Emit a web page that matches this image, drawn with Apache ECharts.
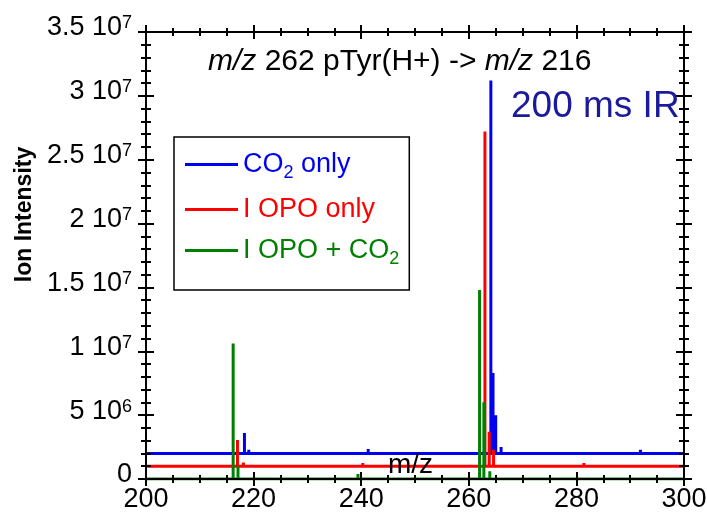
<!DOCTYPE html>
<html>
<head>
<meta charset="utf-8">
<script src="https://cdn.jsdelivr.net/npm/echarts@6/dist/echarts.min.js"></script>
<style>html,body{margin:0;padding:0;background:#fff;}#c{width:707px;height:512px;}</style>
</head>
<body>
<div id="c"></div>
<script>
// ---- data ----
const seriesNames = ['CO2 only', 'I OPO only', 'I OPO + CO2'];
const blueOffset = 2.0e6;
const blueMz  = [218.3, 219.1, 241.3, 264.1, 264.5, 265.0, 266.0, 291.9];
const blueTop = [3.6e6, 2.3e6, 2.35e6, 31.2e6, 8.3e6, 5.0e6, 2.5e6, 2.3e6];
const redOffset = 1.0e6;
const redMz  = [217.0, 218.1, 240.3, 263.0, 263.8, 264.6, 281.4];
const redTop = [3.05e6, 1.3e6, 1.25e6, 27.2e6, 3.7e6, 2.3e6, 1.25e6];
const greenOffset = 0;
const greenMz  = [216.2, 217.1, 239.4, 262.0, 262.8, 263.9];
const greenTop = [10.6e6, 1.0e6, 0.4e6, 14.8e6, 6.0e6, 0.6e6];
const xTickLabels = ['200', '220', '240', '260', '280', '300'];
const yTickMant = ['0', '5', '1', '1.5', '2', '2.5', '3', '3.5'];
const yTickExp  = ['', '6', '7', '7', '7', '7', '7', '7'];

const FONT = 'Liberation Sans';
const BLUE = '#0000f0', RED = '#ff0000', GREEN = '#008000';

function spectrum(mz, top, base) {
  const pts = [[200, base]];
  for (let i = 0; i < mz.length; i++) {
    pts.push([mz[i], base], [mz[i], top[i]], [mz[i], base]);
  }
  pts.push([300, base]);
  return pts;
}

function xAx(pos, inside, labels, extra) {
  return Object.assign({
    type: 'value', min: 200, max: 300, interval: 20, position: pos, z: 5,
    axisLine: { show: true, onZero: false, lineStyle: { color: '#000', width: 2 } },
    axisTick: { show: true, inside: inside, length: 7, lineStyle: { color: '#000', width: 2 } },
    minorTick: { show: true, splitNumber: 4, length: 4, lineStyle: { color: '#000', width: 2 } },
    splitLine: { show: false },
    axisLabel: labels ? {
      show: true, margin: 7, color: '#000', fontSize: 27, fontFamily: FONT,
      formatter: function (v) { return xTickLabels[Math.round((v - 200) / 20)]; }
    } : { show: false }
  }, extra || {});
}
function yAx(pos, inside, labels, extra) {
  return Object.assign({
    type: 'value', min: 0, max: 3.5e7, interval: 5e6, position: pos, z: 5,
    axisLine: { show: true, onZero: false, lineStyle: { color: '#000', width: 2 } },
    axisTick: { show: true, inside: inside, length: 8, lineStyle: { color: '#000', width: 2 } },
    minorTick: { show: true, splitNumber: 5, length: 5, lineStyle: { color: '#000', width: 2 } },
    splitLine: { show: false },
    axisLabel: labels ? {
      show: true, margin: 14, color: '#000', fontFamily: FONT,
      formatter: function (v) {
        const i = Math.round(v / 5e6);
        if (!yTickExp[i]) return '{m|' + yTickMant[i] + '}';
        return '{m|' + yTickMant[i] + ' 10}{s|' + yTickExp[i] + '}';
      },
      rich: {
        m: { fontSize: 27, fontFamily: FONT, color: '#000', padding: [0, 0, 8, 0] },
        s: { fontSize: 18, fontFamily: FONT, color: '#000', padding: [0, 0, 17, 0] }
      }
    } : { show: false }
  }, extra || {});
}

const chart = echarts.init(document.getElementById('c'), null, { renderer: 'canvas' });
chart.setOption({
  animation: false,
  backgroundColor: '#fff',
  grid: { left: 146, right: 23, top: 32, bottom: 33, outerBoundsMode: 'none', containLabel: false },
  title: [
    {
      text: '{i|m/z} 262 pTyr(H+) -> {i|m/z} 216',
      left: 203, top: 42,
      textStyle: { fontSize: 30, fontWeight: 'normal', fontFamily: FONT, color: '#000',
        rich: { i: { fontSize: 30, fontStyle: 'italic', fontFamily: FONT, color: '#000' } } }
    },
    {
      text: '200 ms IR', left: 506, top: 83,
      textStyle: { fontSize: 37, fontWeight: 'normal', fontFamily: FONT, color: '#1a1a9a' }
    },
    {
      text: 'm/z', left: 383, top: 446,
      textStyle: { fontSize: 28, fontWeight: 'normal', fontFamily: FONT, color: '#000' }
    }
  ],
  legend: {
    orient: 'vertical', left: 174, top: 137,
    padding: [14, 10, 22, 11], itemGap: 14,
    itemWidth: 53, itemHeight: 3, icon: 'rect',
    borderColor: '#000', borderWidth: 1.5, backgroundColor: '#fff',
    data: seriesNames,
    formatter: function (name) {
      if (name === seriesNames[0]) return '{b|CO}{bs|2}{b| only}';
      if (name === seriesNames[1]) return '{r|I OPO only}';
      return '{g|I OPO + CO}{gs|2}';
    },
    textStyle: {
      fontSize: 27, fontFamily: FONT,
      rich: {
        b: { fontSize: 27, fontFamily: FONT, color: BLUE },
        bs: { fontSize: 18, fontFamily: FONT, color: BLUE, padding: [17, 0, 0, 0] },
        r: { fontSize: 27, fontFamily: FONT, color: RED },
        g: { fontSize: 27, fontFamily: FONT, color: GREEN },
        gs: { fontSize: 18, fontFamily: FONT, color: GREEN, padding: [17, 0, 0, 0] }
      }
    }
  },
  xAxis: [
    xAx('bottom', false, true),
    xAx('bottom', true, false),
    xAx('top', true, false),
    xAx('top', false, false)
  ],
  yAxis: [
    yAx('left', false, true, {
      name: 'Ion Intensity', nameLocation: 'middle', nameGap: 110,
      nameTextStyle: { fontSize: 23, fontWeight: 'bold', fontFamily: FONT, color: '#000', padding: [0, 0, 0, 82] }
    }),
    yAx('left', true, false),
    yAx('right', true, false),
    yAx('right', false, false)
  ],
  series: [
    { name: seriesNames[0], type: 'line', xAxisIndex: 0, yAxisIndex: 0, showSymbol: false, symbol: 'none',
      color: BLUE, lineStyle: { color: BLUE, width: 3 }, data: spectrum(blueMz, blueTop, blueOffset) },
    { name: seriesNames[1], type: 'line', xAxisIndex: 0, yAxisIndex: 0, showSymbol: false, symbol: 'none',
      color: RED, lineStyle: { color: RED, width: 3 }, data: spectrum(redMz, redTop, redOffset) },
    { name: seriesNames[2], type: 'line', xAxisIndex: 0, yAxisIndex: 0, showSymbol: false, symbol: 'none',
      color: GREEN, lineStyle: { color: GREEN, width: 3 }, data: spectrum(greenMz, greenTop, greenOffset) }
  ]
});
</script>
</body>
</html>
